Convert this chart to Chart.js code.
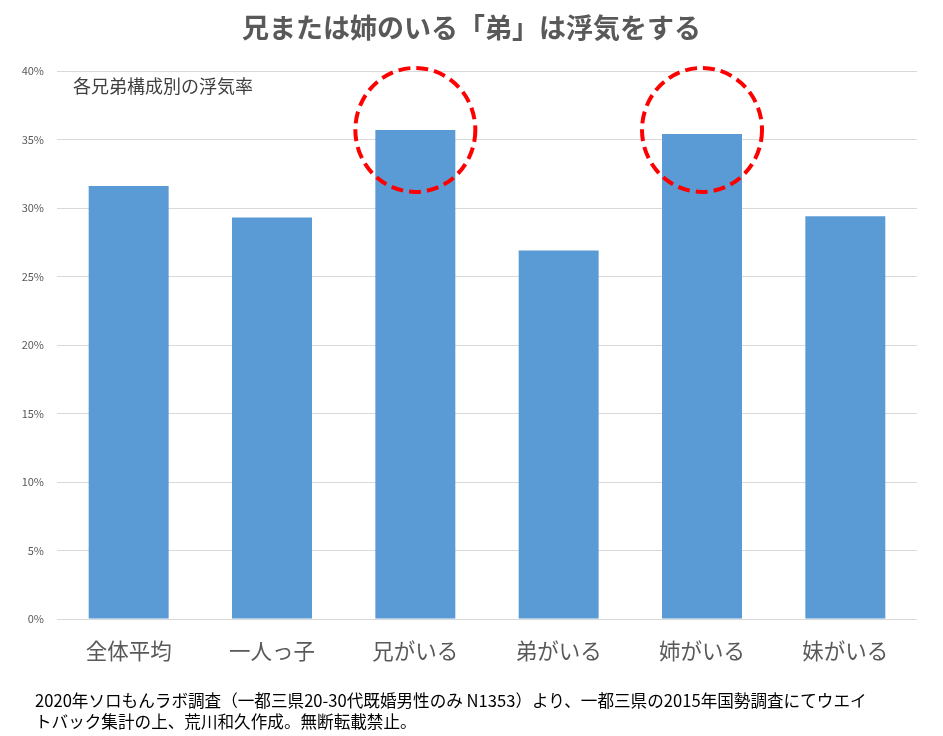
<!DOCTYPE html>
<html><head><meta charset="utf-8">
<script src="https://cdn.jsdelivr.net/npm/chart.js@4/dist/chart.umd.min.js"></script>
<style>
html,body{margin:0;padding:0;background:#fff;}
#wrap{position:relative;width:943px;height:736px;overflow:hidden;}
#title{position:absolute;left:0;top:9px;width:943px;text-align:center;font-family:"Noto Sans CJK JP";font-weight:bold;font-size:27px;color:#595959;line-height:36px;}
#sub{position:absolute;left:73px;top:72px;font-family:"Noto Sans CJK JP";font-size:18px;color:#404040;line-height:26px;}
#foot{position:absolute;left:35px;top:690px;font-family:"Noto Sans CJK JP";font-size:16.6px;color:#000;line-height:21px;white-space:nowrap;}
#c{position:absolute;left:0;top:0;}
</style></head>
<body><div id="wrap">
<canvas id="c" width="943" height="736"></canvas>
<div id="title">兄または姉のいる「弟」は浮気をする</div>
<div id="sub">各兄弟構成別の浮気率</div>
<div id="foot">2020年ソロもんラボ調査（一都三県20-30代既婚男性のみ N1353）より、一都三県の2015年国勢調査にてウエイ<br>トバック集計の上、荒川和久作成。無断転載禁止。</div>
</div>
<script>
const categories = ['全体平均','一人っ子','兄がいる','弟がいる','姉がいる','妹がいる'];
const cheatingRate = [31.6, 29.3, 35.7, 26.9, 35.4, 29.4];
const yTicks = [0,5,10,15,20,25,30,35,40];
const circledCategories = ['兄がいる','姉がいる'];
const circleCenterValue = 35.7;

const circlePlugin = {
  id:'circles',
  afterDatasetsDraw(chart){
    const ctx = chart.ctx, xs = chart.scales.x, ys = chart.scales.y;
    ctx.save();
    ctx.strokeStyle = '#ff0000';
    ctx.lineWidth = 4;
    ctx.setLineDash([12,6]);
    circledCategories.forEach(c=>{
      const i = categories.indexOf(c);
      const cx = xs.getPixelForValue(i);
      const cy = ys.getPixelForValue(circleCenterValue);
      ctx.beginPath();
      ctx.ellipse(cx, cy, 60, 62, 0, 0, Math.PI*2);
      ctx.stroke();
    });
    ctx.restore();
  }
};

new Chart(document.getElementById('c'), {
  type:'bar',
  data:{labels:categories, datasets:[{data:cheatingRate, backgroundColor:'#5b9bd5', categoryPercentage:1, barPercentage:0.558}]},
  options:{
    responsive:false, animation:false,
    layout:{padding:{top:71, right:26, left:0, bottom:0}},
    plugins:{legend:{display:false}, tooltip:{enabled:false}},
    scales:{
      x:{
        grid:{display:false}, border:{display:false},
        ticks:{font:{family:'"Noto Sans CJK JP"', size:21.5}, color:'#595959', padding:11},
        afterFit(s){ s.height = 117; }
      },
      y:{
        min:0, max:40,
        afterBuildTicks(s){ s.ticks = yTicks.map(v=>({value:v})); },
        grid:{color:'#d9d9d9', lineWidth:1, drawTicks:false},
        border:{display:false},
        ticks:{callback:v=>v+'%', font:{family:'"Noto Sans CJK JP"', size:11}, color:'#595959', padding:13},
        afterFit(s){ s.width = 57; }
      }
    }
  },
  plugins:[circlePlugin]
});
</script>
</body></html>
